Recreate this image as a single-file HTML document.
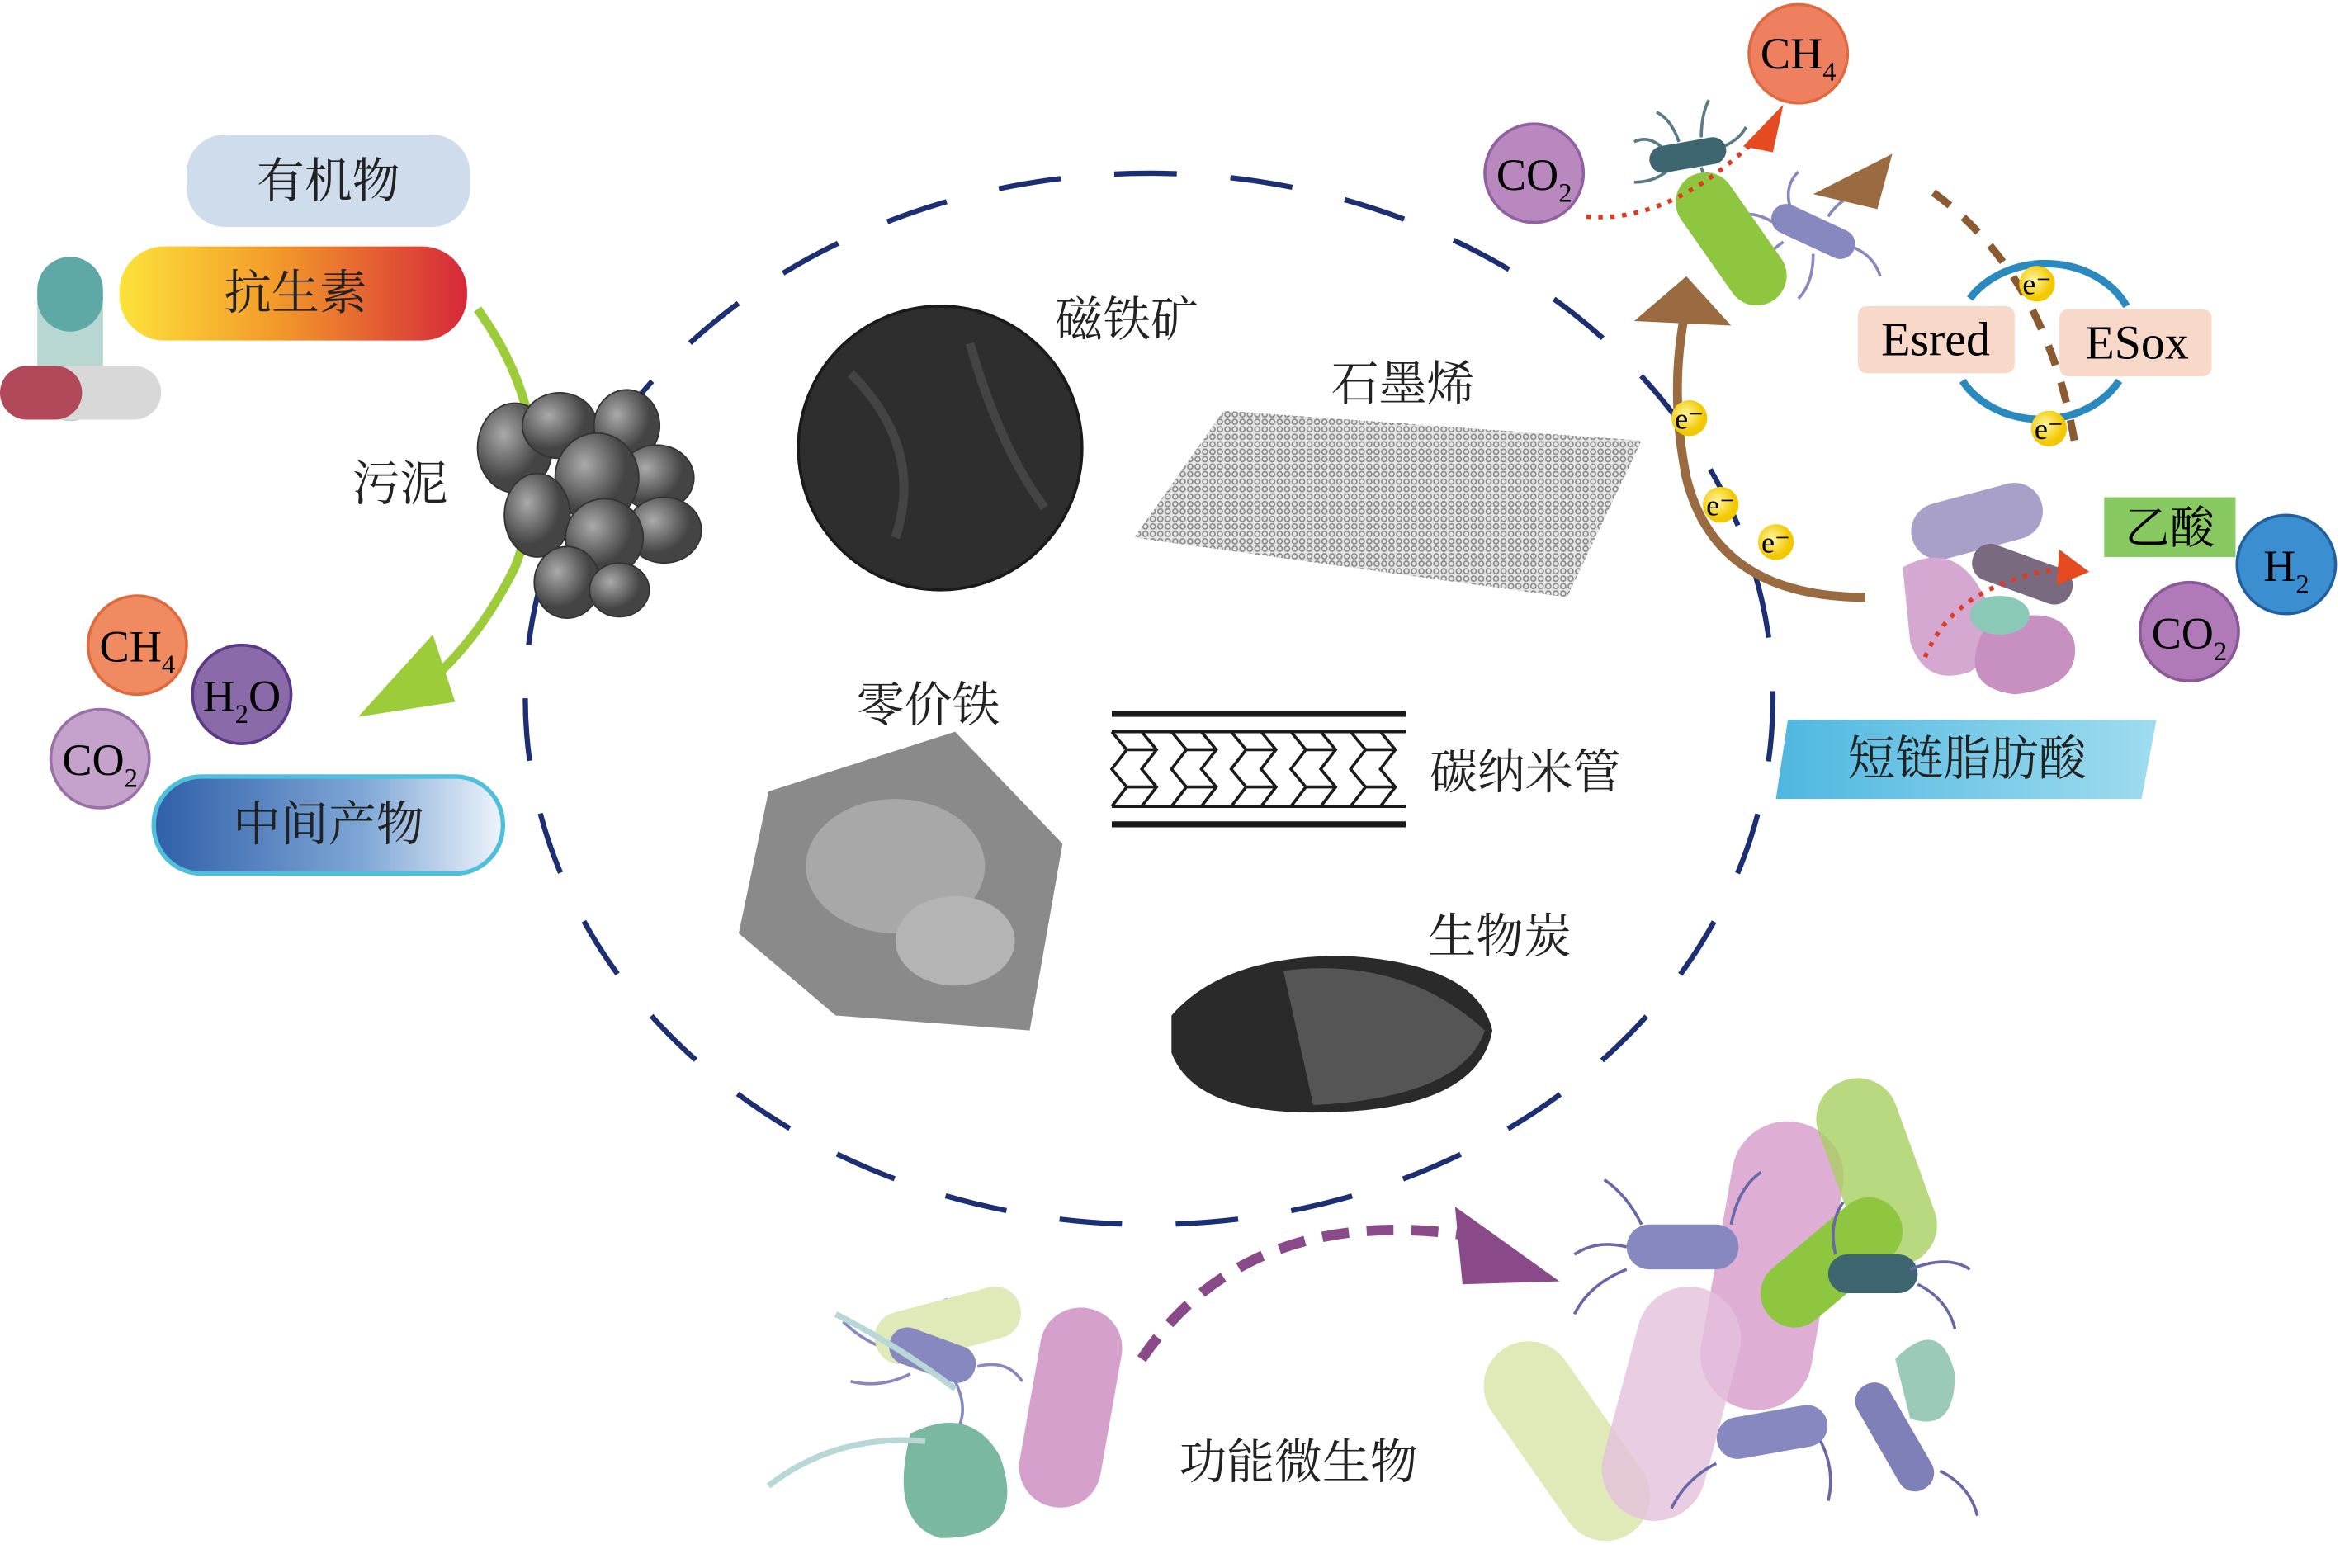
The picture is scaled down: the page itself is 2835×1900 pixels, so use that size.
<!DOCTYPE html>
<html><head><meta charset="utf-8"><style>
html,body{margin:0;padding:0;background:#fff;}
svg{display:block;}
text{font-family:"Liberation Serif","Noto Serif CJK SC",serif;}
.cn{font-family:"Liberation Serif","Noto Serif CJK SC","Noto Sans CJK SC",serif;}
</style></head><body>
<svg width="2835" height="1900" viewBox="0 0 1568 1050" preserveAspectRatio="none" xmlns="http://www.w3.org/2000/svg">
<defs>
<linearGradient id="abx" x1="0" x2="1"><stop offset="0" stop-color="#fde23a"/><stop offset="0.45" stop-color="#f39a2a"/><stop offset="1" stop-color="#d6283a"/></linearGradient>
<linearGradient id="mid" x1="0" x2="1"><stop offset="0" stop-color="#2f5fa8"/><stop offset="0.6" stop-color="#7fa7d6"/><stop offset="1" stop-color="#eef4fb"/></linearGradient>
<linearGradient id="scfa" x1="0" x2="1"><stop offset="0" stop-color="#4fb7e0"/><stop offset="1" stop-color="#9fdcef"/></linearGradient>
<radialGradient id="ball" cx="0.35" cy="0.35"><stop offset="0" stop-color="#aaa"/><stop offset="1" stop-color="#444"/></radialGradient>
<pattern id="mesh" width="5" height="5" patternUnits="userSpaceOnUse"><rect width="5" height="5" fill="#e6e6e6"/><circle cx="2.5" cy="2.5" r="1.7" fill="none" stroke="#888" stroke-width="0.9"/></pattern>
<radialGradient id="eg" cx="0.4" cy="0.4"><stop offset="0" stop-color="#fff6a0"/><stop offset="1" stop-color="#f2c800"/></radialGradient>
</defs>

<ellipse cx="770" cy="468" rx="418" ry="352" fill="none" stroke="#1d2f73" stroke-width="3.5" stroke-dasharray="42 36"/>

<rect x="125" y="90" width="190" height="62" rx="26" fill="#cfdcec"/>
<text x="220" y="132" font-size="32" text-anchor="middle" class="cn" fill="#222">有机物</text>
<rect x="80" y="165" width="233" height="63" rx="30" fill="url(#abx)"/>
<text x="198" y="207" font-size="32" text-anchor="middle" class="cn" fill="#222">抗生素</text>
<rect x="25" y="172" width="44" height="110" rx="22" fill="#b8d6d2"/>
<rect x="25" y="172" width="44" height="50" rx="22" fill="#5ea9a5"/>
<rect x="0" y="245" width="108" height="36" rx="18" fill="#d8d8d8"/>
<rect x="0" y="245" width="55" height="36" rx="18" fill="#b2495a"/>
<path d="M320 207 Q 380 290 345 380 Q 315 440 270 470" fill="none" stroke="#9ccc3a" stroke-width="6"/>
<polygon points="240,480 290,425 305,470" fill="#9ccc3a"/>
<g fill="url(#ball)" stroke="#333" stroke-width="1">
<ellipse cx="345" cy="300" rx="25" ry="30"/><ellipse cx="375" cy="285" rx="25" ry="22"/>
<ellipse cx="420" cy="285" rx="22" ry="24"/><ellipse cx="440" cy="320" rx="25" ry="22"/>
<ellipse cx="400" cy="320" rx="28" ry="30"/><ellipse cx="360" cy="345" rx="22" ry="28"/>
<ellipse cx="445" cy="355" rx="25" ry="22"/><ellipse cx="405" cy="360" rx="26" ry="26"/>
<ellipse cx="380" cy="390" rx="22" ry="24"/><ellipse cx="415" cy="395" rx="20" ry="18"/>
</g>
<text x="268" y="335" font-size="32" text-anchor="middle" class="cn" fill="#222">污泥</text>
<circle cx="92" cy="432" r="33" fill="#f08a60" stroke="#e06a40" stroke-width="2"/>
<text x="92" y="443" font-size="30" text-anchor="middle">CH<tspan font-size="18" dy="8">4</tspan></text>
<circle cx="162" cy="465" r="33" fill="#8a6aa8" stroke="#5a3a88" stroke-width="2"/>
<text x="162" y="476" font-size="30" text-anchor="middle">H<tspan font-size="18" dy="8">2</tspan><tspan dy="-8">O</tspan></text>
<circle cx="67" cy="508" r="33" fill="#c4a2cc" stroke="#9a70a8" stroke-width="2"/>
<text x="67" y="519" font-size="30" text-anchor="middle">CO<tspan font-size="18" dy="8">2</tspan></text>
<rect x="103" y="520" width="234" height="65" rx="32" fill="url(#mid)" stroke="#4fc0dc" stroke-width="3"/>
<text x="220" y="563" font-size="32" text-anchor="middle" class="cn" fill="#222">中间产物</text>

<circle cx="630" cy="300" r="95" fill="#2e2e2e" stroke="#1a1a1a" stroke-width="2"/>
<path d="M570 250 Q 620 300 600 360 M650 230 Q 670 300 700 340" stroke="#444" stroke-width="6" fill="none"/>
<text x="755" y="225" font-size="32" text-anchor="middle" class="cn" fill="#222">磁铁矿</text>
<text x="940" y="268" font-size="32" text-anchor="middle" class="cn" fill="#222">石墨烯</text>
<polygon points="820,275 1100,295 1050,400 760,360" fill="url(#mesh)"/>
<text x="622" y="483" font-size="32" text-anchor="middle" class="cn" fill="#222">零价铁</text>
<polygon points="515,530 640,490 712,565 690,690 560,680 495,625" fill="#8a8a8a"/>
<ellipse cx="600" cy="580" rx="60" ry="45" fill="#a8a8a8"/><ellipse cx="640" cy="630" rx="40" ry="30" fill="#b4b4b4"/>
<g stroke="#1a1a1a" stroke-width="2" fill="none">
<line x1="745" y1="478" x2="942" y2="478" stroke-width="4"/><line x1="745" y1="552" x2="942" y2="552" stroke-width="4"/>
<path d="M745 490 L942 490 M745 540 L942 540"/>
<path d="M745 490 l10 12 l-10 13 l10 12 l-10 13 M765 490 l10 12 l-10 13 l10 12 l-10 13 M785 490 l10 12 l-10 13 l10 12 l-10 13 M805 490 l10 12 l-10 13 l10 12 l-10 13 M825 490 l10 12 l-10 13 l10 12 l-10 13 M845 490 l10 12 l-10 13 l10 12 l-10 13 M865 490 l10 12 l-10 13 l10 12 l-10 13 M885 490 l10 12 l-10 13 l10 12 l-10 13 M905 490 l10 12 l-10 13 l10 12 l-10 13 M925 490 l10 12 l-10 13 l10 12 l-10 13"/>
<path d="M755 502 h20 M755 527 h20 M795 502 h20 M795 527 h20 M835 502 h20 M835 527 h20 M875 502 h20 M875 527 h20 M915 502 h20 M915 527 h20"/>
</g>
<text x="1022" y="528" font-size="32" text-anchor="middle" class="cn" fill="#222">碳纳米管</text>
<text x="1005" y="638" font-size="32" text-anchor="middle" class="cn" fill="#222">生物炭</text>
<path d="M785 680 Q 820 640 900 640 Q 990 645 1000 690 Q 990 745 880 745 Q 800 745 785 705 Z" fill="#2a2a2a"/>
<path d="M860 650 Q 940 640 995 690 Q 980 735 880 740 Z" fill="#555"/>

<circle cx="1205" cy="36" r="33" fill="#ee8060" stroke="#e06a40" stroke-width="2"/>
<text x="1205" y="46" font-size="30" text-anchor="middle">CH<tspan font-size="18" dy="8">4</tspan></text>
<circle cx="1028" cy="116" r="33" fill="#b888be" stroke="#9060a0" stroke-width="2"/>
<text x="1028" y="127" font-size="30" text-anchor="middle">CO<tspan font-size="18" dy="8">2</tspan></text>
<g stroke="#5a7a88" stroke-width="2" fill="none">
<path d="M1115 100 q-10 -10 -20 -5 M1125 95 q-5 -15 -15 -20 M1140 92 q0 -15 5 -25 M1150 100 q15 -5 20 -15 M1120 112 q-10 10 -25 10 M1140 112 q5 15 0 25"/>
</g>
<g stroke="#8888c0" stroke-width="2" fill="none">
<path d="M1190 150 q-15 -10 -30 -5 M1200 140 q-5 -15 5 -25 M1225 145 q10 -15 25 -15 M1240 165 q15 5 20 20 M1215 170 q0 20 -10 30 M1195 162 q-15 10 -20 25"/>
</g>
<rect x="1140" y="110" width="40" height="100" rx="20" fill="#8ec63f" transform="rotate(-35 1160 160)"/>
<rect x="1105" y="95" width="52" height="18" rx="9" fill="#3e6670" transform="rotate(-10 1130 104)"/>
<rect x="1185" y="145" width="60" height="20" rx="10" fill="#8888c0" transform="rotate(25 1215 155)"/>
<path d="M1063 145 Q 1120 150 1180 90" stroke="#e03a20" stroke-width="3" stroke-dasharray="3 5" fill="none"/>
<polygon points="1168,98 1195,70 1188,102" fill="#e64a20"/>
<path d="M1390 295 Q 1370 180 1290 125" fill="none" stroke="#8b5a30" stroke-width="5" stroke-dasharray="14 12"/>
<polygon points="1215,130 1268,103 1258,140" fill="#9a6a40"/>
<path d="M1250 400 Q 1150 400 1130 320 Q 1118 260 1130 205" fill="none" stroke="#9a6a40" stroke-width="6"/>
<polygon points="1130,185 1095,215 1160,218" fill="#9a6a40"/>
<path d="M1320 200 A 60 50 0 0 1 1425 205 M1420 255 A 60 50 0 0 1 1315 255" fill="none" stroke="#2a8ac0" stroke-width="5"/>
<rect x="1245" y="205" width="105" height="45" rx="6" fill="#f8d8c8"/>
<text x="1297" y="238" font-size="32" text-anchor="middle">Esred</text>
<rect x="1380" y="207" width="102" height="45" rx="6" fill="#f8d8c8"/>
<text x="1432" y="240" font-size="32" text-anchor="middle">ESox</text>
<g font-size="20" text-anchor="middle">
<circle cx="1365" cy="190" r="12" fill="url(#eg)"/><text x="1365" y="197">e⁻</text>
<circle cx="1373" cy="287" r="12" fill="url(#eg)"/><text x="1373" y="294">e⁻</text>
<circle cx="1132" cy="280" r="12" fill="url(#eg)"/><text x="1132" y="287">e⁻</text>
<circle cx="1153" cy="338" r="12" fill="url(#eg)"/><text x="1153" y="345">e⁻</text>
<circle cx="1190" cy="363" r="12" fill="url(#eg)"/><text x="1190" y="370">e⁻</text>
</g>
<rect x="1280" y="330" width="90" height="38" rx="19" fill="#a8a0c8" transform="rotate(-15 1325 350)"/>
<path d="M1275 380 Q 1310 360 1330 400 Q 1350 430 1320 450 Q 1290 460 1280 430 Z" fill="#d4a8d0"/>
<path d="M1330 420 Q 1380 400 1390 430 Q 1395 460 1350 465 Q 1310 460 1330 420 Z" fill="#c890c0"/>
<rect x="1320" y="372" width="70" height="25" rx="12" fill="#7a6a80" transform="rotate(20 1355 385)"/>
<ellipse cx="1340" cy="412" rx="20" ry="13" fill="#8ac8b8"/>
<path d="M1290 440 Q 1310 390 1385 380" stroke="#e03a20" stroke-width="3" stroke-dasharray="3 5" fill="none"/>
<polygon points="1380,368 1400,383 1378,392" fill="#e64a20"/>
<rect x="1410" y="333" width="88" height="40" fill="#88c860"/>
<text x="1454" y="364" font-size="30" text-anchor="middle" class="cn">乙酸</text>
<circle cx="1532" cy="378" r="33" fill="#3b8ed0" stroke="#2060a0" stroke-width="2"/>
<text x="1532" y="389" font-size="30" text-anchor="middle">H<tspan font-size="18" dy="8">2</tspan></text>
<circle cx="1467" cy="423" r="33" fill="#b07ab8" stroke="#8a5a98" stroke-width="2"/>
<text x="1467" y="434" font-size="30" text-anchor="middle">CO<tspan font-size="18" dy="8">2</tspan></text>
<polygon points="1198,482 1445,482 1435,535 1190,535" fill="url(#scfa)"/>
<text x="1318" y="519" font-size="32" text-anchor="middle" class="cn" fill="#222">短链脂肪酸</text>

<g stroke="#8888c0" stroke-width="2" fill="none">
<path d="M600 905 q-20 -5 -35 -20 M610 920 q-20 10 -40 5 M640 925 q10 20 0 35 M655 915 q20 -5 30 10 M620 895 q0 -20 15 -25"/>
</g>
<rect x="585" y="870" width="100" height="35" rx="17" fill="#dfeab8" transform="rotate(-15 635 887)"/>
<rect x="595" y="895" width="60" height="25" rx="12" fill="#8888c0" transform="rotate(20 625 907)"/>
<rect x="690" y="875" width="55" height="135" rx="27" fill="#d6a0cc" transform="rotate(10 717 942)"/>
<path d="M610 960 Q 650 940 670 975 Q 690 1030 630 1030 Q 595 1020 610 960 Z" fill="#7ab8a0"/>
<path d="M515 995 Q 560 960 620 965 M560 880 Q 600 900 640 930" stroke="#b8d8d8" stroke-width="4" fill="none"/>
<path d="M765 910 Q 840 800 1000 830" fill="none" stroke="#8a4a8a" stroke-width="7" stroke-dasharray="18 12"/>
<polygon points="975,808 1045,858 980,860" fill="#8a4a8a"/>
<text x="870" y="990" font-size="32" text-anchor="middle" class="cn" fill="#222">功能微生物</text>
<rect x="1020" y="890" width="60" height="150" rx="30" fill="#dfeab8" transform="rotate(-35 1050 965)"/>
<rect x="1150" y="750" width="75" height="195" rx="37" fill="#d8a0cc" opacity="0.85" transform="rotate(10 1187 847)"/>
<rect x="1085" y="860" width="70" height="160" rx="35" fill="#e4c0dc" opacity="0.8" transform="rotate(15 1120 940)"/>
<rect x="1230" y="720" width="55" height="130" rx="27" fill="#a8d060" opacity="0.8" transform="rotate(-20 1257 785)"/>
<rect x="1205" y="790" width="45" height="110" rx="22" fill="#8ec63f" transform="rotate(50 1227 845)"/>
<rect x="1090" y="820" width="75" height="30" rx="15" fill="#8888c0"/>
<rect x="1225" y="840" width="60" height="26" rx="13" fill="#3e6670"/>
<rect x="1150" y="945" width="75" height="28" rx="14" fill="#8888c0" transform="rotate(-10 1187 959)"/>
<rect x="1230" y="950" width="80" height="25" rx="12" fill="#8080b8" transform="rotate(60 1270 962)"/>
<path d="M1270 910 Q 1300 880 1310 920 Q 1310 960 1280 950 Z" fill="#9ccab8"/>
<g stroke="#6868a8" stroke-width="2" fill="none">
<path d="M1090 835 q-20 -5 -35 5 M1100 820 q-10 -20 -25 -30 M1160 820 q5 -25 20 -35 M1090 850 q-25 10 -35 30 M1150 980 q-20 10 -30 30 M1300 985 q20 10 25 30 M1280 850 q25 -10 40 0 M1230 840 q-5 -20 5 -35 M1285 860 q20 10 25 30 M1220 965 q10 20 5 40"/>
</g>
</svg>
</body></html>
